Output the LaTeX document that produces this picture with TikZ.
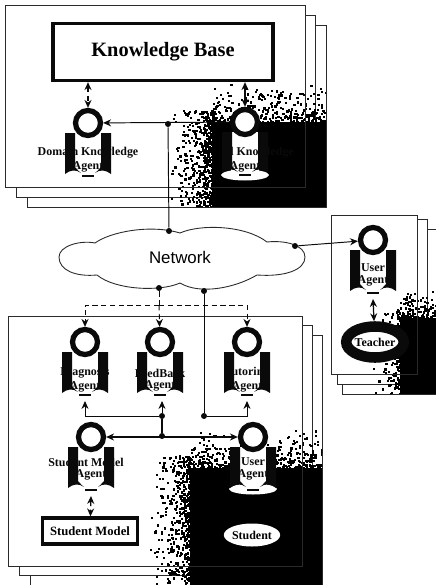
\documentclass[tikz,border=0pt]{standalone}
\usepackage{fontspec}
\usepackage{xcolor}
\setmainfont{Liberation Serif}
\newfontfamily\netfont{Liberation Sans}
\usetikzlibrary{positioning, arrows.meta, shapes.geometric}
\definecolor{inkblack}{HTML}{0A0A0A}
\definecolor{linegray}{HTML}{2A2A2A}

\tikzset{
  panel/.style={draw=linegray, fill=white, line width=0.5pt},
  panelline/.style={draw=linegray, line width=0.5pt},
  thickbox/.style={draw=inkblack, fill=white, line width=1.9pt, font=\bfseries},
  agenthead/.style={circle, draw=inkblack, fill=white, line width=3pt, minimum size=0.5cm, inner sep=0pt},
  agentbar/.style={fill=inkblack},
  agentlabel/.style={font=\fontsize{6.8}{7}\selectfont\bfseries, inner sep=0pt, text=inkblack},
  link/.style={draw=inkblack, line width=0.55pt, -{Stealth[length=4.5pt,width=4pt]}},
  dualink/.style={draw=inkblack, line width=0.7pt, {Stealth[length=4.5pt,width=4pt]}-{Stealth[length=4.5pt,width=4pt]}},
  dashlink/.style={link, densely dashed},
  plainlink/.style={draw=inkblack, line width=0.55pt},
  joint/.style={circle, fill=inkblack, minimum size=3.4pt, inner sep=0pt},
  glow/.style={ellipse, fill=white, inner sep=0pt},
}

% name, x, y, two label lines, drop of the first line, sideways shift of the first line
\newcommand{\agent}[7]{
  \begin{scope}[shift={(#2,#3)}]
    \fill[white] (-14,10) rectangle (14,50);
    \fill[agentbar] (-23,10) -- (-13,10) -- (-13,44) .. controls (-10,47) and (-9,49) .. (-7,50)
      .. controls (-12,46) and (-18,47) .. (-23,51) -- cycle;
    \fill[agentbar] (23,10) -- (13,10) -- (13,44) .. controls (10,47) and (9,49) .. (7,50)
      .. controls (12,46) and (18,47) .. (23,51) -- cycle;
    \node[agenthead] (#1) at (0,0) {};
    \node[agentlabel] (#1top) at (#7,#6) {#4};
    \node[agentlabel, below=1.6pt of #1top.south -| #1] (#1low) {#5};
    \draw[inkblack, line width=0.9pt] (-6,53) -- (6,53);
    \coordinate (#1foot) at (0,59);
  \end{scope}
}

% black core with grain along its left and top edges: x0, y0, x1, y1, band, count
\newcommand{\darkcorner}[6]{
  \fill[black] (#1,#2) rectangle (#3,#4);
  \foreach \i in {1,...,#6}{
    \pgfmathsetmacro\off{#5*rnd*rnd}
    \pgfmathsetmacro\along{rnd}
    \pgfmathsetmacro\side{rnd<0.55 ? 1 : 0}
    \ifdim\side pt>0.5pt
      \pgfmathsetmacro\px{#1-\off}
      \pgfmathsetmacro\py{#2-0.3*#5+\along*(#4-#2+0.3*#5)}
    \else
      \pgfmathsetmacro\px{#1+\along*(#3-#1)}
      \pgfmathsetmacro\py{#2-\off}
    \fi
    \fill[black] (\px,\py) rectangle ++(2.2,2.2);
  }
}

\begin{document}
\begin{tikzpicture}[x=0.02cm, y=-0.02cm]
  \useasboundingbox (0,0) rectangle (436,585);
  \pgfmathsetseed{11}

  % top stack
  \draw[panel] (27,25) rectangle (326,207);
  \draw[panel] (16,15) rectangle (315,197);
  \draw[panel] (5,5) rectangle (305,187);
  \begin{scope}
    \clip (5,5) rectangle (305,187) (16,15) rectangle (315,197) (27,25) rectangle (326,207);
    \darkcorner{212}{122}{326}{207}{42}{800}
  \end{scope}
  \draw[panelline] (5,5) rectangle (305,187);

  % right stack
  \draw[panel] (342,229) rectangle (437,394);
  \draw[panel] (337,219) rectangle (427,384);
  \draw[panel] (331,215) rectangle (417,374);
  \begin{scope}
    \clip (331,215) rectangle (417,374) (337,219) rectangle (427,384) (342,229) rectangle (436,394);
    \darkcorner{400}{318}{436}{394}{30}{280}
  \end{scope}
  \draw[panelline] (331,215) rectangle (417,374);

  % bottom stack
  \draw[panel] (30,335) rectangle (322,585);
  \draw[panel] (19,325) rectangle (312,575);
  \draw[panel] (8,316) rectangle (302,566);
  \begin{scope}
    \clip (8,316) rectangle (302,566) (19,325) rectangle (312,575) (30,335) rectangle (322,585);
    \darkcorner{190}{468}{322}{585}{42}{900}
  \end{scope}
  \draw[panelline] (8,316) rectangle (302,566);

  % network cloud
  \draw[fill=white, draw=linegray, line width=0.5pt] (59,257) .. controls (59,246) and (80,240) .. (95,243)
    .. controls (110,232) and (150,224) .. (180,233) .. controls (200,224) and (245,225) .. (267,242)
    .. controls (285,240) and (305,245) .. (305,257) .. controls (305,270) and (285,277) .. (257,275)
    .. controls (235,288) and (200,295) .. (180,283) .. controls (160,292) and (115,290) .. (97,275)
    .. controls (75,277) and (59,270) .. (59,257) -- cycle;
  \node[font=\netfont\fontsize{9.6}{10}\selectfont, inner sep=0pt] (network) at (180,257) {Network};
  \node[joint] (nettop) at (169,231) {};
  \node[joint] (netright) at (295,246) {};
  \node[joint] (netdown) at (159,288) {};
  \node[joint] (netbus) at (204,291) {};

  % knowledge side
  \node[thickbox, minimum width=4.4cm, minimum height=1.14cm, font=\fontsize{11.6}{13}\selectfont\bfseries] (kbase) at (163,52) {Knowledge Base};
  \agent{domain}{88}{123}{Domain Knowledge}{Agent}{30}{0}
  \node[glow, minimum width=0.96cm, minimum height=0.22cm] (tutorglow) at (245,175) {};
  \agent{tutor}{245}{122}{l Knowledge}{Agent}{31}{17}
  \node[joint] (kbjoint) at (168,124) {};
  \draw[dualink, densely dashed] (kbase.south -| domain) -- (domain);
  \draw[dualink] (kbase.south -| tutor) -- (tutor);
  \draw[link] (tutor) -- (domain);
  \draw[plainlink] (kbjoint) -- (nettop);

  % teacher side
  \agent{teacheragent}{373}{240}{User}{Agent}{28}{0}
  \node[glow, draw=inkblack, line width=6pt, minimum width=1.1cm, minimum height=0.62cm, font=\fontsize{6.8}{8}\selectfont\bfseries] (teacher) at (375,342) {Teacher};
  \draw[dualink] (teacheragentfoot) -- (teacher);
  \draw[link] (netright) -- (teacheragent);

  % student side
  \agent{diagnosis}{85}{342}{Diagnosis}{Agent}{31}{0}
  \agent{feedback}{160}{342}{FeedBack}{Agent}{31}{0}
  \agent{tutoring}{247}{342}{Tutoring}{Agent}{31}{0}
  \agent{modelagent}{91}{437}{Student Model}{Agent}{25}{-5}
  \node[glow, minimum width=0.96cm, minimum height=0.22cm] (userglow) at (253,489) {};
  \agent{useragent}{253}{437}{User}{Agent}{25}{0}
  \node[thickbox, minimum width=1.9cm, minimum height=0.52cm, font=\fontsize{7.2}{8}\selectfont\bfseries] (studentmodel) at (90,531) {Student Model};
  \node[glow, minimum width=0.88cm, minimum height=0.46cm, font=\fontsize{6.8}{8}\selectfont\bfseries] (student) at (252,535) {Student};

  \coordinate (downsplit) at (159,305);
  \draw[plainlink, densely dashed] (netdown) -- (downsplit);
  \draw[dashlink] (downsplit) -- (feedback);
  \draw[dashlink] (downsplit) -| (diagnosis);
  \draw[dashlink] (downsplit) -| (tutoring);

  \node[joint] (busjoint) at (204,416) {};
  \node[joint] (busmid) at (162,416) {};
  \node[joint] (peerjoint) at (162,436) {};
  \draw[plainlink] (netbus) -- (busjoint);
  \draw[link] (busmid) -| (diagnosisfoot);
  \draw[link] (busmid) -- (feedbackfoot -| busmid);
  \draw[link] (busjoint) -| (tutoringfoot);
  \draw[plainlink, line width=0.9pt] (busmid) -- (peerjoint);
  \draw[dualink] (modelagent) -- (useragent);
  \draw[dualink, densely dashed] (modelagentfoot) -- (studentmodel);
\end{tikzpicture}
\end{document}
